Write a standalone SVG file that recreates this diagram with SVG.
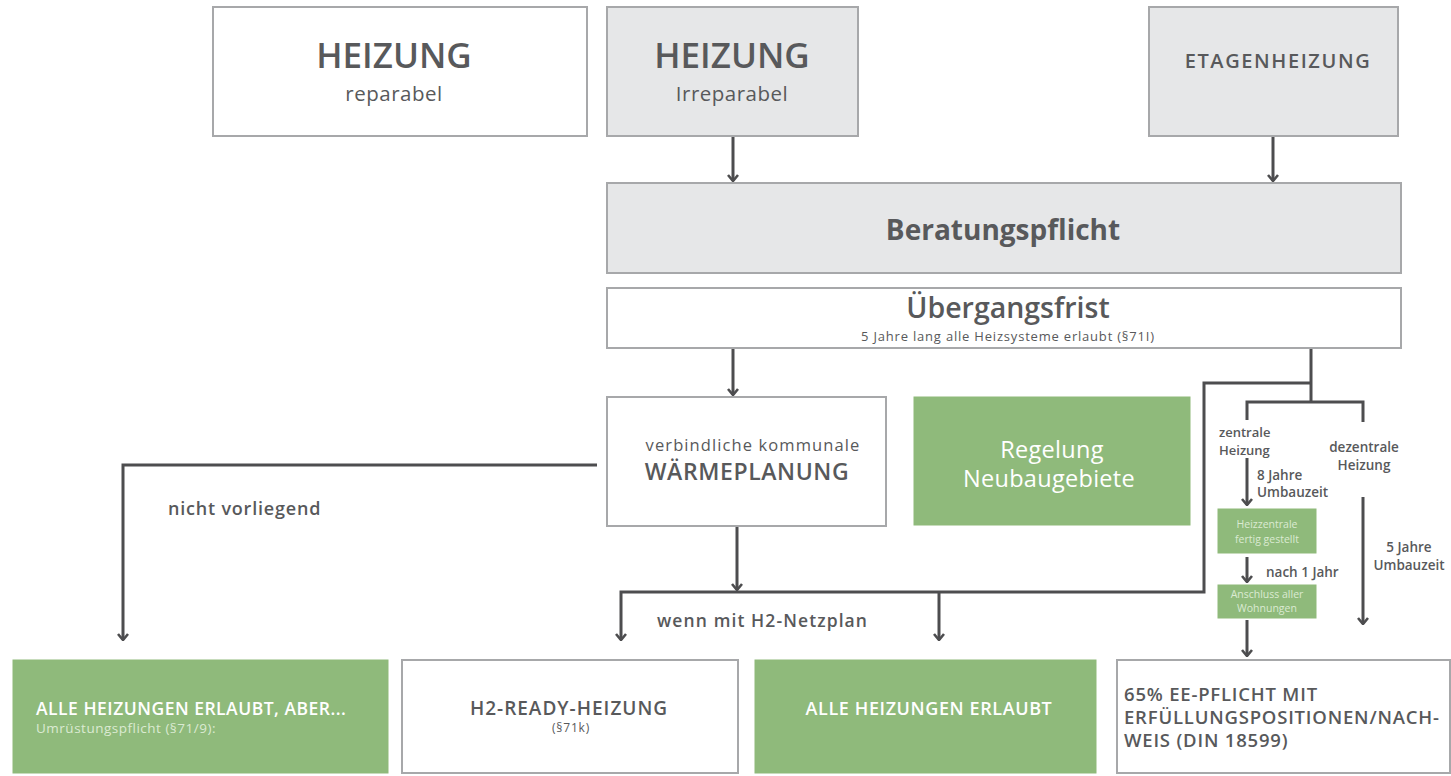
<svg xmlns="http://www.w3.org/2000/svg" width="1451" height="776" viewBox="0 0 1451 776">
<defs>
<style>
.box{stroke:#a7a8aa;stroke-width:2}
.w{fill:#ffffff}
.g{fill:#e6e7e8}
.gr{fill:#8fba7b;stroke:#8fba7b}
.c{fill:none;stroke:#4d4d4f;stroke-width:3}
.t{font-family:"Open Sans","Noto Sans",sans-serif;fill:#58595b}
.b{font-weight:600}
.wt{fill:#ffffff}
.lt{fill:#dbead2}
</style>
<marker id="ah" viewBox="0 0 12 12" refX="11" refY="6" markerWidth="12" markerHeight="12" markerUnits="userSpaceOnUse" orient="auto">
<path d="M5,1 L11,6 L5,11" fill="none" stroke="#4d4d4f" stroke-width="2.6"/>
</marker>
</defs>
<rect width="1451" height="776" fill="#ffffff"/>

<g id="connectors">
<path class="c" d="M733,136 V181" marker-end="url(#ah)"/>
<path class="c" d="M1273,136 V181" marker-end="url(#ah)"/>
<path class="c" d="M733,348 V395" marker-end="url(#ah)"/>
<path class="c" d="M1311,348 V402"/>
<path class="c" d="M1311,383 H1204 V592 H621 V640" marker-end="url(#ah)"/>
<path class="c" d="M939,592 V640" marker-end="url(#ah)"/>
<path class="c" d="M737,526 V590" marker-end="url(#ah)"/>
<path class="c" d="M597,465 H123 V640" marker-end="url(#ah)"/>
<path class="c" d="M1247,420 V402 H1363 V422"/>
<path class="c" d="M1247,458 V505" marker-end="url(#ah)"/>
<path class="c" d="M1363,497 V624" marker-end="url(#ah)"/>
<path class="c" d="M1247,557 V582" marker-end="url(#ah)"/>
<path class="c" d="M1247,620 V656" marker-end="url(#ah)"/>
</g>

<g id="heizung-reparabel">
<rect class="box w" x="213" y="7" width="374" height="129"/>
<text class="t b" x="394" y="68" font-size="35" text-anchor="middle">HEIZUNG</text>
<text class="t" x="394" y="101" font-size="20.5" letter-spacing="0.5" text-anchor="middle">reparabel</text>
</g>
<g id="heizung-irreparabel">
<rect class="box g" x="607" y="7" width="251" height="129"/>
<text class="t b" x="732" y="68" font-size="35" text-anchor="middle">HEIZUNG</text>
<text class="t" x="732" y="101" font-size="20.5" letter-spacing="0.5" text-anchor="middle">Irreparabel</text>
</g>
<g id="etagenheizung">
<rect class="box g" x="1149" y="7" width="249" height="129"/>
<text class="t b" x="1278" y="68" font-size="20" letter-spacing="1.6" text-anchor="middle">ETAGENHEIZUNG</text>
</g>
<g id="beratungspflicht">
<rect class="box g" x="607" y="183" width="794" height="90"/>
<text class="t" x="1003" y="240" font-size="28" font-weight="700" text-anchor="middle">Beratungspflicht</text>
</g>
<g id="uebergangsfrist">
<rect class="box w" x="607" y="288" width="794" height="60"/>
<text class="t b" x="1008" y="318" font-size="28.5" text-anchor="middle">Übergangsfrist</text>
<text class="t" x="1008" y="341" font-size="13" letter-spacing="0.8" text-anchor="middle">5 Jahre lang alle Heizsysteme erlaubt (§71I)</text>
</g>
<g id="waermeplanung">
<rect class="box w" x="607" y="397" width="279" height="129"/>
<text class="t" x="753" y="451" font-size="16.5" letter-spacing="1.1" text-anchor="middle">verbindliche kommunale</text>
<text class="t b" x="747" y="480" font-size="23" letter-spacing="0.6" text-anchor="middle">WÄRMEPLANUNG</text>
</g>
<g id="neubaugebiete">
<rect class="gr" x="914" y="397" width="276" height="128"/>
<text class="t" x="1052" y="458" font-size="23.5" letter-spacing="0.3" text-anchor="middle" style="fill:#ffffff">Regelung</text>
<text class="t" x="1049" y="487" font-size="23.5" letter-spacing="0.3" text-anchor="middle" style="fill:#ffffff">Neubaugebiete</text>
</g>
<g id="zentral-label">
<text class="t b" x="1219" y="437" font-size="13">zentrale</text>
<text class="t b" x="1219" y="455" font-size="13">Heizung</text>
<text class="t b" x="1257" y="480" font-size="13.5">8 Jahre</text>
<text class="t b" x="1257" y="497" font-size="13.5">Umbauzeit</text>
</g>
<g id="dezentral-label">
<text class="t b" x="1364" y="452" font-size="13.5" text-anchor="middle">dezentrale</text>
<text class="t b" x="1364" y="470" font-size="13.5" text-anchor="middle">Heizung</text>
<text class="t b" x="1409" y="552" font-size="13.5" text-anchor="middle">5 Jahre</text>
<text class="t b" x="1409" y="570" font-size="13.5" text-anchor="middle">Umbauzeit</text>
</g>
<g id="heizzentrale">
<rect class="gr" x="1218" y="509" width="98" height="44"/>
<text class="t" x="1267" y="528" font-size="10.5" text-anchor="middle" style="fill:#dbead2">Heizzentrale</text>
<text class="t" x="1267" y="543" font-size="10.5" text-anchor="middle" style="fill:#dbead2">fertig gestellt</text>
</g>
<text class="t b" x="1266" y="577" font-size="13.5">nach 1 Jahr</text>
<g id="anschluss">
<rect class="gr" x="1218" y="585" width="98" height="33"/>
<text class="t" x="1267" y="598" font-size="10.5" text-anchor="middle" style="fill:#dbead2">Anschluss aller</text>
<text class="t" x="1267" y="612" font-size="10.5" text-anchor="middle" style="fill:#dbead2">Wohnungen</text>
</g>
<text class="t b" x="168" y="515" font-size="18" letter-spacing="0.8">nicht vorliegend</text>
<text class="t b" x="657" y="627" font-size="17.5" letter-spacing="1.1">wenn mit H2-Netzplan</text>

<g id="alle-aber">
<rect class="gr" x="13" y="660" width="375" height="113"/>
<text class="t b" x="36" y="715" font-size="17.5" letter-spacing="0.5" style="fill:#ffffff">ALLE HEIZUNGEN ERLAUBT, ABER...</text>
<text class="t" x="36" y="733" font-size="13.5" letter-spacing="0.5" style="fill:#dbead2">Umrüstungspflicht (§71/9):</text>
</g>
<g id="h2-ready">
<rect class="box w" x="402" y="660" width="336" height="113"/>
<text class="t b" x="569" y="715" font-size="19" letter-spacing="1" text-anchor="middle">H2-READY-HEIZUNG</text>
<text class="t" x="571" y="732" font-size="12" letter-spacing="0.8" text-anchor="middle">(§71k)</text>
</g>
<g id="alle-erlaubt">
<rect class="gr" x="755" y="660" width="341" height="113"/>
<text class="t b" x="929" y="715" font-size="18" letter-spacing="0.6" text-anchor="middle" style="fill:#ffffff">ALLE HEIZUNGEN ERLAUBT</text>
</g>
<g id="ee-pflicht">
<rect class="box w" x="1117" y="660" width="333" height="113"/>
<text class="t b" x="1124" y="701" font-size="18.5" letter-spacing="0.8">65% EE-PFLICHT MIT</text>
<text class="t b" x="1124" y="724" font-size="18.5" letter-spacing="0.8">ERFÜLLUNGSPOSITIONEN/NACH-</text>
<text class="t b" x="1124" y="747" font-size="18.5" letter-spacing="0.8">WEIS (DIN 18599)</text>
</g>
</svg>
